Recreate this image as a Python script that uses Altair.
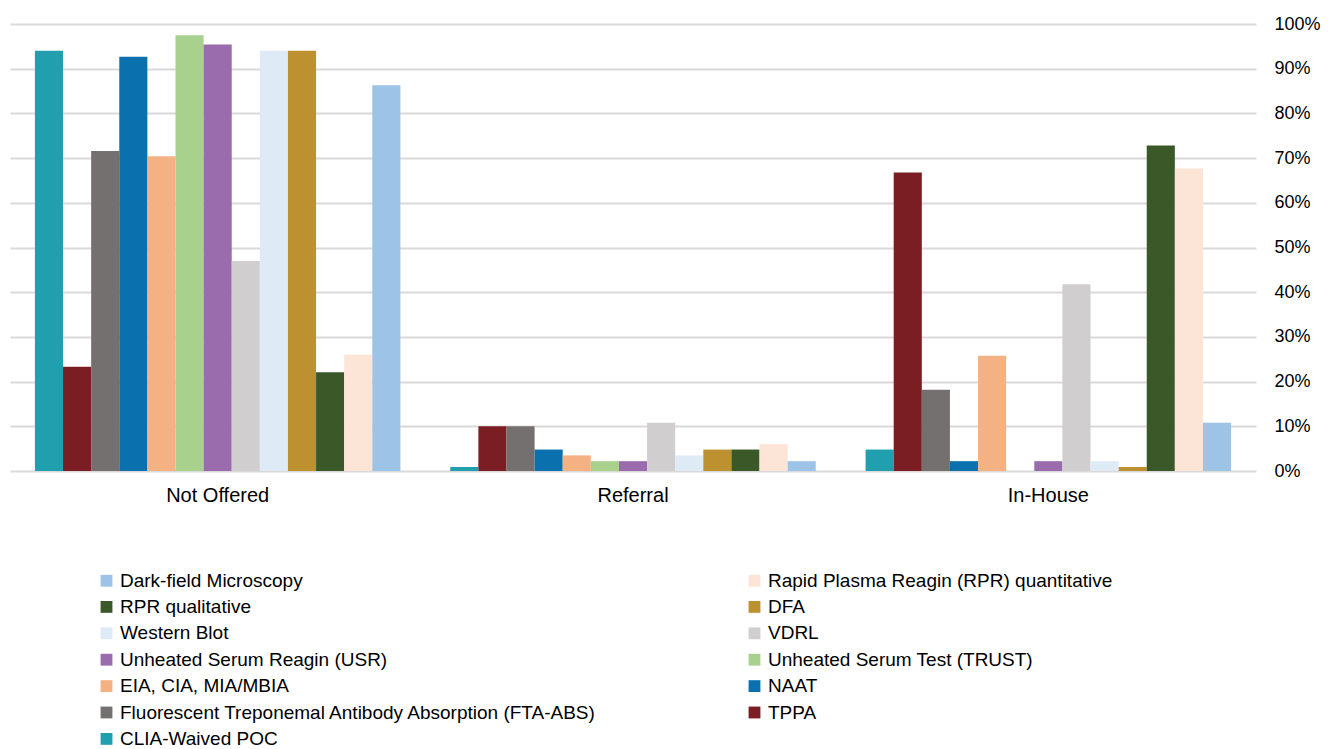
import altair as alt
import pandas as pd

# Availability of syphilis tests by setting (share of respondents)
categories = ["Not Offered", "Referral", "In-House"]

tests = [
    "CLIA-Waived POC",
    "TPPA",
    "Fluorescent Treponemal Antibody Absorption (FTA-ABS)",
    "NAAT",
    "EIA, CIA, MIA/MBIA",
    "Unheated Serum Test (TRUST)",
    "Unheated Serum Reagin (USR)",
    "VDRL",
    "Western Blot",
    "DFA",
    "RPR qualitative",
    "Rapid Plasma Reagin (RPR) quantitative",
    "Dark-field Microscopy",
]

colors = [
    "#229FAF",
    "#7B1E23",
    "#757070",
    "#0B71AE",
    "#F4B183",
    "#A9D18E",
    "#9A6CAE",
    "#D0CECE",
    "#DEEBF7",
    "#BE9130",
    "#3B5828",
    "#FCE4D6",
    "#9DC3E6",
]

not_offered = [94.0, 23.3, 71.6, 92.7, 70.4, 97.5, 95.4, 47.0, 94.0, 94.0, 22.1, 26.0, 86.3]
referral = [0.9, 10.0, 10.0, 4.8, 3.5, 2.2, 2.2, 10.8, 3.5, 4.8, 4.8, 6.0, 2.2]
in_house = [4.8, 66.8, 18.2, 2.2, 25.8, 0.0, 2.2, 41.8, 2.2, 0.9, 72.8, 67.7, 10.8]

y_ticks = [0, 0.1, 0.2, 0.3, 0.4, 0.5, 0.6, 0.7, 0.8, 0.9, 1.0]

rows = []
for cat, vals in zip(categories, [not_offered, referral, in_house]):
    for test, v in zip(tests, vals):
        rows.append({"category": cat, "test": test, "share": v / 100})
df = pd.DataFrame(rows)

# Legend reads the series in reverse order, row by row over two columns;
# Vega fills legend columns top to bottom, so split the reversed list.
reversed_tests = tests[::-1]
legend_order = reversed_tests[0::2] + reversed_tests[1::2]
color_of = dict(zip(tests, colors))
legend_colors = [color_of[t] for t in legend_order]

FONT = "Liberation Sans"

chart = (
    alt.Chart(df)
    .mark_bar()
    .encode(
        x=alt.X(
            "category:N",
            sort=categories,
            scale=alt.Scale(paddingInner=0.12, paddingOuter=0.06),
            axis=alt.Axis(
                title=None,
                labelAngle=0,
                domain=False,
                ticks=False,
                labelPadding=14,
                labelFontSize=20,
                labelColor="#000000",
                labelFont=FONT,
            ),
        ),
        xOffset=alt.XOffset(
            "test:N",
            sort=tests,
            scale=alt.Scale(domain=tests, paddingInner=0, paddingOuter=0),
        ),
        y=alt.Y(
            "share:Q",
            scale=alt.Scale(domain=[0, 1], nice=False),
            axis=alt.Axis(
                title=None,
                orient="right",
                format=".0%",
                values=y_ticks,
                domain=False,
                ticks=False,
                grid=True,
                gridColor="#D9D9D9",
                gridWidth=2,
                labelPadding=18,
                labelAlign="left",
                labelFontSize=18,
                labelColor="#000000",
                labelFont=FONT,
            ),
        ),
        color=alt.Color(
            "test:N",
            scale=alt.Scale(domain=legend_order, range=legend_colors),
            legend=alt.Legend(
                title=None,
                orient="none",
                legendX=87,
                legendY=547,
                columns=2,
                columnPadding=147,
                rowPadding=6.4,
                symbolType="square",
                symbolSize=140,
                symbolStrokeWidth=0,
                labelFontSize=19,
                labelFont=FONT,
                labelColor="#000000",
                labelLimit=0,
            ),
        ),
    )
    .properties(
        width=1246,
        height=447,
        padding={"left": 10, "top": 24, "right": 72, "bottom": 278},
        autosize=alt.AutoSizeParams(type="none"),
        background="#FFFFFF",
    )
    .configure_view(stroke=None)
)

chart.save("out.html", embed_options={"renderer": "svg", "actions": False})
